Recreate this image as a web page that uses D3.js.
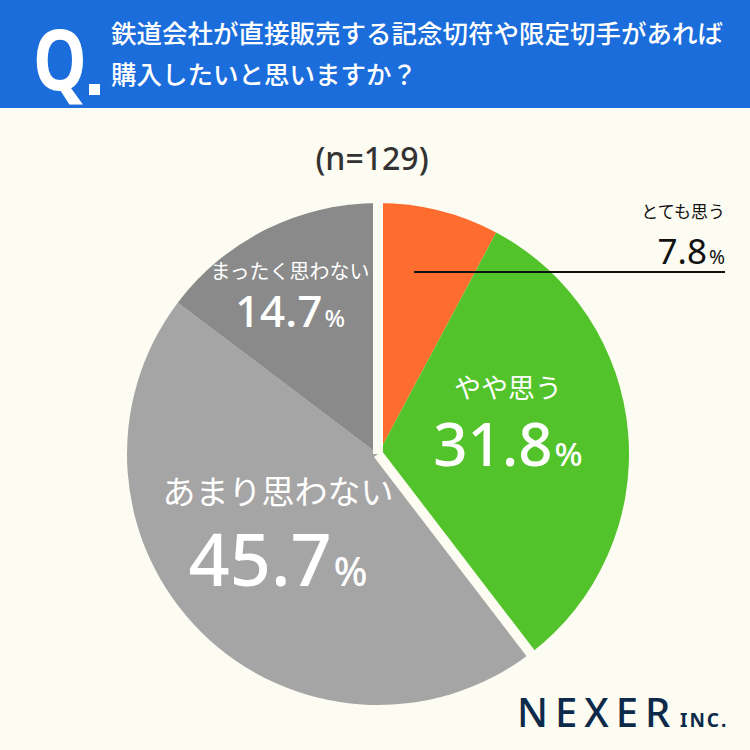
<!DOCTYPE html>
<html>
<head>
<meta charset="utf-8">
<script src="https://cdn.jsdelivr.net/npm/d3@7"></script>
<style>
  body { margin: 0; background: #fdfcf2; }
  svg { display: block; }
</style>
</head>
<body>
<div id="wrapper"></div>
<script>
const categories = ["とても思う", "やや思う", "あまり思わない", "まったく思わない"]
const values = [7.8, 31.8, 45.7, 14.7]
const colors = ["#ff6d2e", "#52c32a", "#a5a5a5", "#8a8a8a"]
const question = ["鉄道会社が直接販売する記念切符や限定切手があれば", "購入したいと思いますか？"]
const sampleLabel = "(n=129)"

const dataset = categories.map((c, i) => ({ label: c, value: values[i], color: colors[i] }))

const dimensions = { width: 750, height: 750, cx: 378, cy: 454, radius: 251 }

const bg = "#fdfcf2"
const jp = "'Noto Sans CJK JP', 'Noto Sans', sans-serif"
const num = "'Noto Sans', 'Open Sans', sans-serif"

const wrapper = d3.select("#wrapper")
  .append("svg")
    .attr("width", dimensions.width)
    .attr("height", dimensions.height)

wrapper.append("rect")
  .attr("width", dimensions.width)
  .attr("height", dimensions.height)
  .attr("fill", bg)

// header
wrapper.append("rect")
  .attr("width", dimensions.width)
  .attr("height", 108)
  .attr("fill", "#1a6ddb")

wrapper.append("text")
  .attr("transform", "translate(33, 90) scale(0.85, 1.05)")
  .attr("fill", "white")
  .style("font-family", num)
  .style("font-weight", 700)
  .style("font-size", "80px")
  .text("Q")

wrapper.append("rect")
  .attr("x", 89)
  .attr("y", 84)
  .attr("width", 11)
  .attr("height", 11)
  .attr("fill", "white")

wrapper.selectAll(".q-line")
  .data(question)
  .enter().append("text")
    .attr("class", "q-line")
    .attr("x", 111)
    .attr("y", (d, i) => 43 + i * 41)
    .attr("fill", "white")
    .style("font-family", jp)
    .style("font-weight", 500)
    .style("font-size", "25.5px")
    .text(d => d)

wrapper.append("text")
  .attr("x", 372)
  .attr("y", 170)
  .attr("text-anchor", "middle")
  .attr("fill", "#333")
  .style("font-family", num)
  .style("font-weight", 500)
  .style("font-size", "32px")
  .text(sampleLabel)

// pie
const pie = d3.pie()
  .sort(null)
  .value(d => d.value)

const arc = d3.arc()
  .innerRadius(0)
  .outerRadius(dimensions.radius)

const arcs = pie(dataset)

const bounds = wrapper.append("g")
  .attr("transform", `translate(${dimensions.cx}, ${dimensions.cy})`)

bounds.selectAll("path")
  .data(arcs)
  .enter().append("path")
    .attr("d", arc)
    .attr("fill", d => d.data.color)

// gaps between the "agree" and "disagree" groups
const gapAngles = [arcs[0].startAngle, arcs[1].endAngle]
bounds.selectAll(".gap")
  .data(gapAngles)
  .enter().append("line")
    .attr("class", "gap")
    .attr("x1", 0)
    .attr("y1", 0)
    .attr("x2", a => Math.sin(a) * (dimensions.radius + 6))
    .attr("y2", a => -Math.cos(a) * (dimensions.radius + 6))
    .attr("stroke", bg)
    .attr("stroke-width", 10)

// labels
const labelSpots = [
  { x: 725, y: 218, ls: 17, vy: 264, vs: 35, anchor: "end", fill: "#111", w: 400 },
  { x: 508, y: 398, ls: 27, vy: 466, vs: 60, anchor: "middle", fill: "white", w: 500 },
  { x: 278, y: 504, ls: 33, vy: 586, vs: 72, anchor: "middle", fill: "white", w: 500 },
  { x: 290, y: 279, ls: 20, vy: 327, vs: 44, anchor: "middle", fill: "white", w: 500 },
]

// leader line for the small slice
wrapper.append("line")
  .attr("x1", 414)
  .attr("x2", 725)
  .attr("y1", 272)
  .attr("y2", 272)
  .attr("stroke", "#111")
  .attr("stroke-width", 2)

arcs.forEach((d, i) => {
  const s = labelSpots[i]
  wrapper.append("text")
    .attr("x", s.x)
    .attr("y", s.y)
    .attr("text-anchor", s.anchor)
    .attr("fill", s.fill)
    .style("font-family", jp)
    .style("font-size", s.ls + "px")
    .text(d.data.label)

  const t = wrapper.append("text")
    .attr("x", s.x)
    .attr("y", s.vy)
    .attr("text-anchor", s.anchor)
    .attr("fill", s.fill)
    .style("font-family", num)
    .style("font-weight", s.w)
    .style("font-size", s.vs + "px")
  t.append("tspan").text(d.data.value.toFixed(1))
  t.append("tspan")
    .style("font-size", (s.vs * 0.55) + "px")
    .attr("dx", 2)
    .text("%")
})

// logo
wrapper.append("text")
  .attr("x", 517)
  .attr("y", 727)
  .attr("fill", "#0e2a4b")
  .style("font-family", num)
  .style("font-weight", 500)
  .style("font-size", "40px")
  .style("letter-spacing", "7px")
  .text("NEXER")

wrapper.append("text")
  .attr("x", 680)
  .attr("y", 727)
  .attr("fill", "#0e2a4b")
  .style("font-family", num)
  .style("font-weight", 700)
  .style("font-size", "19px")
  .style("letter-spacing", "2px")
  .text("INC.")
</script>
</body>
</html>
